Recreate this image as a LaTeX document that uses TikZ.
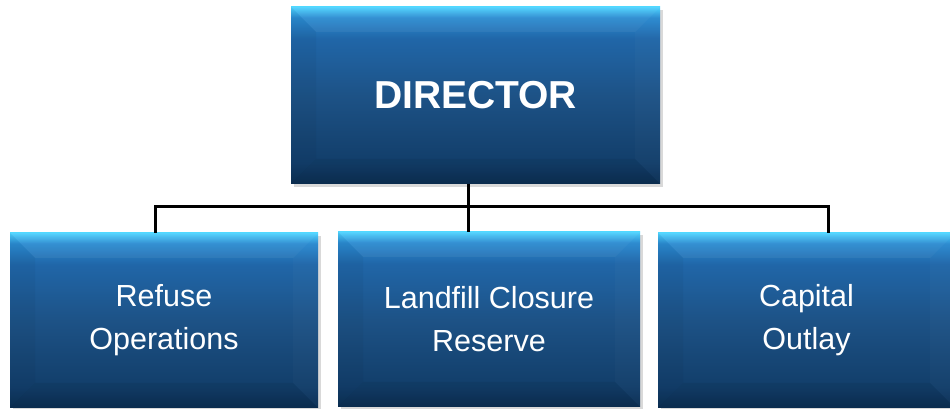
\documentclass[tikz,border=0pt]{standalone}
\usepackage{fontspec}
\setmainfont{Liberation Sans}
\usetikzlibrary{shadows,calc}
\definecolor{cA}{HTML}{0B2E52}
\definecolor{cB}{HTML}{123E6A}
\definecolor{cC}{HTML}{1D5286}
\definecolor{cD}{HTML}{2066A8}
\definecolor{cE}{HTML}{2A8AD0}
\definecolor{cF}{HTML}{4CD2FF}
\pgfdeclareverticalshading{boxshade}{100bp}{color(0bp)=(cA); color(25bp)=(cA); color(31bp)=(cB); color(50bp)=(cC); color(66bp)=(cD); color(72bp)=(cE); color(75bp)=(cF); color(100bp)=(cF)}
\tikzset{
  bevelbox/.style={rectangle, inner sep=0pt, text=white, align=center,
    shading=boxshade,
    drop shadow={opacity=0.25, shadow xshift=3pt, shadow yshift=-3pt, fill=black!60},
    path picture={
      \path (path picture bounding box.north west) coordinate (pNW)
            (path picture bounding box.north east) coordinate (pNE)
            (path picture bounding box.south west) coordinate (pSW)
            (path picture bounding box.south east) coordinate (pSE);
      \fill[white,opacity=.05] (pNW) -- (pNE) -- ([shift={(-25pt,-25pt)}]pNE) -- ([shift={(25pt,-25pt)}]pNW) -- cycle;
      \fill[black,opacity=.035] (pNW) -- ([shift={(25pt,-25pt)}]pNW) -- ([shift={(25pt,25pt)}]pSW) -- (pSW) -- cycle;
      \fill[white,opacity=.02] (pNE) -- ([shift={(-25pt,-25pt)}]pNE) -- ([shift={(-25pt,25pt)}]pSE) -- (pSE) -- cycle;
      \fill[black,opacity=.06] (pSW) -- ([shift={(25pt,25pt)}]pSW) -- ([shift={(-25pt,25pt)}]pSE) -- (pSE) -- cycle;
    }},
  topfont/.style={font=\bfseries\fontsize{39}{44}\selectfont},
  subfont/.style={font=\fontsize{30.5}{43}\selectfont},
  conn/.style={draw=black, line width=3pt}
}
\begin{document}
\begin{tikzpicture}[x=1pt,y=1pt]
\useasboundingbox (0,0) rectangle (950,409);
\coordinate (jm) at (468,202);
\coordinate (jl) at (155,202);
\coordinate (jr) at (828,202);
\node[bevelbox, topfont, minimum width=369pt, minimum height=177pt] (dir) at (475.5,313.5) {DIRECTOR};
\node[bevelbox, subfont, minimum width=308pt, minimum height=175pt] (ref) at (164,88.5) {Refuse\\Operations};
\node[bevelbox, subfont, minimum width=302pt, minimum height=175pt] (lcr) at (489,89.5) {Landfill Closure\\Reserve};
\node[bevelbox, subfont, minimum width=297pt, minimum height=175pt] (cap) at (806.5,88.5) {Capital\\Outlay};
\draw[conn] (dir.south -| jm) -- (jm);
\draw[conn, line cap=rect] (jl) -- (jr);
\draw[conn] (jl) -- (jl |- ref.north);
\draw[conn] (jm) -- (jm |- lcr.north);
\draw[conn] (jr) -- (jr |- cap.north);
\end{tikzpicture}
\end{document}
